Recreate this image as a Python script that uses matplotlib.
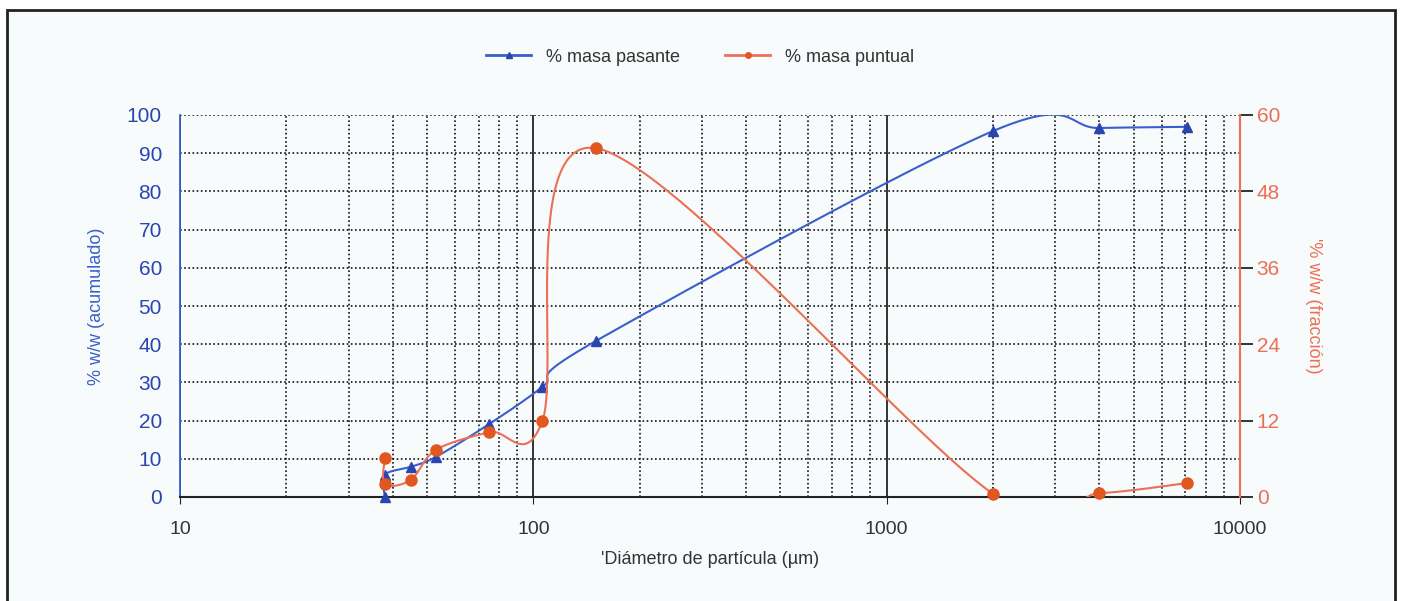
import matplotlib
matplotlib.use("Agg")
import matplotlib.pyplot as plt
from matplotlib.patches import Rectangle
from matplotlib.ticker import FixedLocator, FixedFormatter, NullFormatter, LogLocator
import numpy as np

# data
diametro = [38, 38, 45, 53, 75, 106, 150, 2000, 4000, 7100]
masa_pasante = [0, 5.8, 7.9, 10.5, 19.1, 28.8, 40.8, 95.8, 96.6, 96.9]
masa_puntual = [6.1, 2.0, 2.7, 7.4, 10.2, 11.9, 54.8, 0.5, 0.6, 2.2]

x_ticks = [10, 100, 1000, 10000]
x_labels = ["10", "100", "1000", "10000"]
left_ticks = list(range(0, 101, 10))
right_ticks = [0, 12, 24, 36, 48, 60]

blue = "#3a5fcd"
blue_dark = "#2a45b0"
red = "#ec6f55"
red_dark = "#e2561f"
bg = "#f8fbfc"

plt.rcParams['font.family'] = ['Liberation Sans', 'DejaVu Sans']


# smoothed line like the spreadsheet "smooth line" option (Catmull-Rom in log-x)
def smooth(xs, ys, n=60):
    pts = np.column_stack([np.log10(xs), np.array(ys, dtype=float)])
    pts = np.vstack([pts[0], pts, pts[-1]])
    segs = []
    t = np.linspace(0, 1, n)[:, None]
    for i in range(1, len(pts) - 2):
        p0, p1, p2, p3 = pts[i - 1], pts[i], pts[i + 1], pts[i + 2]
        c = 0.5 * (2 * p1 + (-p0 + p2) * t + (2 * p0 - 5 * p1 + 4 * p2 - p3) * t ** 2
                   + (-p0 + 3 * p1 - 3 * p2 + p3) * t ** 3)
        segs.append(c)
    c = np.vstack(segs)
    return 10 ** c[:, 0], c[:, 1]


fig = plt.figure(figsize=(14.07, 6.01), dpi=100, facecolor="white")
# frame around the chart, open at the bottom edge of the picture
fig.patches.append(Rectangle((7 / 1407, -0.05), 1388 / 1407, 1.05 - 10 / 601,
                             transform=fig.transFigure, facecolor=bg,
                             edgecolor="#222222", linewidth=2, zorder=-10))

ax = fig.add_axes([180 / 1407, 1 - 497 / 601, 1060 / 1407, 382 / 601])
ax.set_facecolor(bg)
ax.set_xscale("log")
ax.set_xlim(10, 10000)
ax.set_ylim(0, 100)

# grid
ax.xaxis.set_major_locator(FixedLocator(x_ticks))
ax.xaxis.set_major_formatter(FixedFormatter(x_labels))
ax.xaxis.set_minor_locator(LogLocator(base=10, subs=np.arange(2, 10)))
ax.xaxis.set_minor_formatter(NullFormatter())
ax.set_yticks(left_ticks)
ax.yaxis.set_minor_locator(FixedLocator([0, 20, 40, 60, 80, 100]))
ax.grid(True, which="major", axis="x", color="#111111", linestyle="-", linewidth=1.2)
ax.grid(True, which="minor", axis="x", color="#111111", linestyle=(0, (1, 1.5)), linewidth=1.2)
ax.grid(True, which="major", axis="y", color="#111111", linestyle=(0, (1, 1.5)), linewidth=1.2)
ax.set_axisbelow(True)

ax.tick_params(axis="x", which="major", length=5, color="#222222", labelsize=14,
               labelcolor="#333333", pad=12)
ax.tick_params(axis="x", which="minor", length=0)
ax.tick_params(axis="y", which="major", length=0, labelsize=15, labelcolor=blue_dark, pad=13)
ax.tick_params(axis="y", which="minor", length=9, color="#222222", width=1.3)

for s in ["top", "right"]:
    ax.spines[s].set_visible(False)
ax.spines["left"].set_color(blue)
ax.spines["left"].set_linewidth(1.3)
ax.spines["bottom"].set_color("#222222")
ax.spines["bottom"].set_linewidth(1.5)

ax2 = ax.twinx()
ax2.set_ylim(0, 60)
ax2.set_yticks(right_ticks)
ax2.tick_params(axis="y", length=9, color="#222222", width=1.3, labelsize=15,
                labelcolor=red, pad=3)
for s in ["top", "left", "bottom"]:
    ax2.spines[s].set_visible(False)
ax2.spines["right"].set_color(red)
ax2.spines["right"].set_linewidth(1.5)

# series
sx, sy = smooth(diametro, masa_pasante)
ax.plot(sx, sy, color=blue, linewidth=1.5, zorder=3)
ax.plot(diametro, masa_pasante, linestyle="none", marker="^", markersize=7,
        color=blue_dark, zorder=4, clip_on=False)

rx, ry = smooth(diametro, masa_puntual)
ax2.plot(rx, ry, color=red, linewidth=1.5, zorder=3)
ax2.plot(diametro, masa_puntual, linestyle="none", marker="o", markersize=8,
         color=red_dark, zorder=4, clip_on=False)

ax.set_ylabel("% w/w (acumulado)", color=blue, fontsize=13, labelpad=16)
ax2.set_ylabel("'% w/w (fracción)", color=red, fontsize=13, rotation=270, labelpad=30)
ax.set_xlabel("'Diámetro de partícula (µm)", color="#333333", fontsize=13, labelpad=10)

handles = [
    plt.Line2D([], [], color=blue, linewidth=2, marker="^", markersize=4,
               markerfacecolor=blue_dark, markeredgecolor=blue_dark),
    plt.Line2D([], [], color=red, linewidth=2, marker="o", markersize=4,
               markerfacecolor=red_dark, markeredgecolor=red_dark),
]
fig.legend(handles, ["% masa pasante", "% masa puntual"], loc="center",
           bbox_to_anchor=(700 / 1407, 1 - 57 / 601), ncol=2, frameon=False,
           fontsize=13, handlelength=2.5, columnspacing=2.5, labelcolor="#333333")

fig.savefig("out.png", dpi=100, facecolor=fig.get_facecolor())
